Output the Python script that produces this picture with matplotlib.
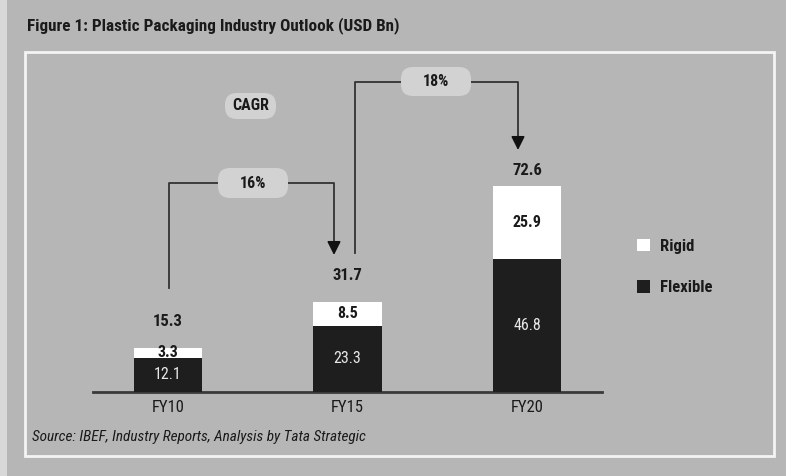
import matplotlib
matplotlib.use("Agg")
import matplotlib.pyplot as plt
from matplotlib import font_manager
from matplotlib.patches import Rectangle, FancyBboxPatch
from matplotlib.transforms import IdentityTransform

categories = ["FY10", "FY15", "FY20"]
flexible = [12.1, 23.3, 46.8]
rigid = [3.3, 8.5, 25.9]
totals = [15.3, 31.7, 72.6]
cagr_labels = ["16%", "18%"]
title = "Figure 1: Plastic Packaging Industry Outlook (USD Bn)"
source = "Source: IBEF, Industry Reports, Analysis by Tata Strategic"

names = {f.name for f in font_manager.fontManager.ttflist}
fam = "DejaVu Sans"
for cand in ["Roboto Condensed", "Liberation Sans Narrow", "Open Sans Condensed", "Lato", "Roboto"]:
    if cand in names:
        fam = cand
        break
plt.rcParams["font.family"] = [fam, "DejaVu Sans"]

BG = "#b6b6b6"
BOX = "#d2d2d2"
DARK = "#1e1e1e"
TXT = "#1a1a1a"

W, H = 786, 476
fig = plt.figure(figsize=(W / 100, H / 100), dpi=100)
fig.patch.set_facecolor(BG)

# light strip at left edge
fig.patches.append(Rectangle((0, 0), 7 / W, 1, transform=fig.transFigure,
                             facecolor="#d8d8d8", edgecolor="none", zorder=0))
# inner panel with white border
fig.patches.append(Rectangle((25 / W, (H - 456) / H), (774 - 25) / W, (456 - 52) / H,
                             transform=fig.transFigure, facecolor="none",
                             edgecolor="#f4f4f4", linewidth=2, zorder=1))

fig.text(27 / W, 1 - 26 / H, title, fontsize=12.3, fontweight="bold",
         color=TXT, ha="left", va="center")
fig.text(32 / W, 1 - 437 / H, source, fontsize=11, style="italic",
         color=TXT, ha="left", va="center")

# axes: baseline at y=392 px, x from 93 to 602 px
ymax = 110
px_per_unit = 206 / 72.6
ax_h = ymax * px_per_unit
ax = fig.add_axes([93 / W, (H - 392) / H, (602 - 93) / W, ax_h / H])
ax.set_facecolor("none")
ax.set_xlim(-0.418, 2.418)
ax.set_ylim(0, ymax)
for s in ["top", "right", "left"]:
    ax.spines[s].set_visible(False)
ax.spines["bottom"].set_color("#3a3a3a")
ax.spines["bottom"].set_linewidth(2)
ax.set_yticks([])
x = list(range(len(categories)))
ax.set_xticks(x)
ax.set_xticklabels(categories, fontsize=12, color=TXT)
ax.tick_params(axis="x", length=0, pad=6)

bw = 0.38
ax.bar(x, flexible, bw, color=DARK, edgecolor="none", label="Flexible", zorder=3)
ax.bar(x, rigid, bw, bottom=flexible, color="white", edgecolor="none", label="Rigid", zorder=3)

for i in x:
    ax.text(i, flexible[i] / 2, f"{flexible[i]}", ha="center", va="center",
            color="#e8e8e8", fontsize=11.5, zorder=4)
    ax.text(i, flexible[i] + rigid[i] / 2, f"{rigid[i]}", ha="center", va="center",
            color=TXT, fontsize=11.5, fontweight="semibold", zorder=4)

total_y = [24.7, 41.2, 78.0]
for i in x:
    ax.text(i, total_y[i], f"{totals[i]}", ha="center", va="center",
            color=TXT, fontsize=12, fontweight="semibold")

def px2data(px, py):
    dx = -0.418 + (px - 93) / (602 - 93) * 2.836
    dy = (392 - py) / px_per_unit
    return dx, dy

def pill(x0, y0, x1, y1):
    p = FancyBboxPatch((x0, H - y1), x1 - x0, y1 - y0,
                       boxstyle="round,pad=0,rounding_size=12",
                       transform=IdentityTransform(), facecolor=BOX,
                       edgecolor="none", zorder=4)
    fig.patches.append(p)

def cagr(x0, y0, ytop, x1, y1tip, label, box):
    a = px2data(x0, y0)
    b = px2data(x0, ytop)
    c = px2data(x1, ytop)
    d = px2data(x1, y1tip)
    ax.plot([a[0], b[0], c[0], c[0]], [a[1], b[1], c[1], d[1] + 3.8],
            color="#333333", lw=1.3, clip_on=False, zorder=2)
    ax.annotate("", xy=d, xytext=(d[0], d[1] + 4.0),
                arrowprops=dict(arrowstyle="-|>,head_width=0.4,head_length=0.8",
                                color="#111111", lw=1.3, shrinkA=0, shrinkB=0),
                annotation_clip=False, zorder=2)
    pill(*box)
    cx = (box[0] + box[2]) / 2
    cy = (box[1] + box[3]) / 2
    fig.text(cx / W, 1 - cy / H, label, ha="center", va="center", fontsize=11.5,
             fontweight="semibold", color=TXT, zorder=6)

cagr(169, 288, 183, 334, 255, cagr_labels[0], (218, 168, 288, 198))
cagr(355, 253, 82, 518, 150, cagr_labels[1], (401, 67, 471, 96))

pill(225, 93, 276, 119)
fig.text(250.5 / W, 1 - 106 / H, "CAGR", ha="center", va="center", fontsize=11.5,
         fontweight="semibold", color=TXT, zorder=6)

# legend
handles, labels = ax.get_legend_handles_labels()
leg = fig.legend(handles[::-1], labels[::-1], loc="center left",
                 bbox_to_anchor=(622 / W, 1 - 267 / H), frameon=False,
                 fontsize=12, handlelength=0.8, handleheight=0.8,
                 labelspacing=1.6, handletextpad=0.6)
for t in leg.get_texts():
    t.set_color(TXT)
    t.set_fontweight("semibold")

fig.savefig("out.png", dpi=100, facecolor=fig.get_facecolor())
